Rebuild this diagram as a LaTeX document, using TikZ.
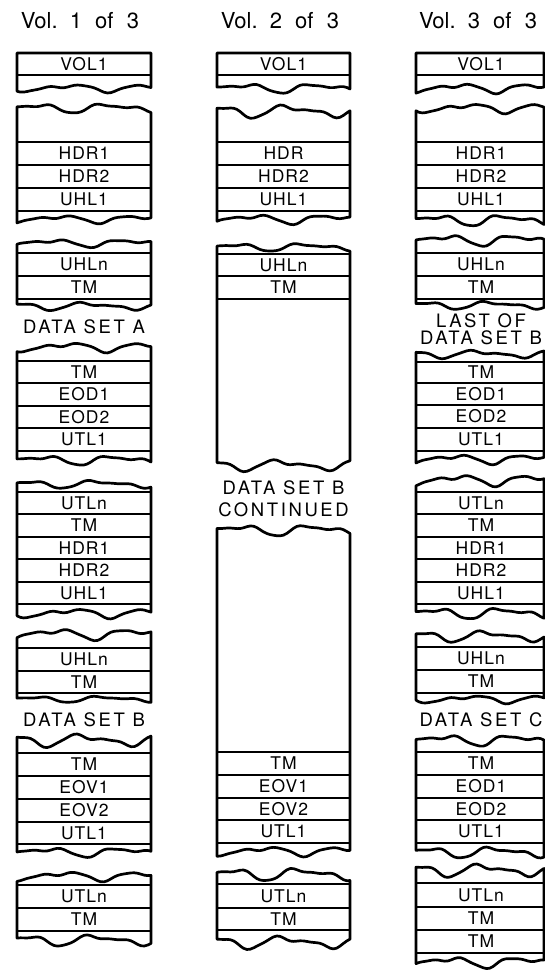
\documentclass[tikz,border=0pt]{standalone}
\usepackage{fontspec}
\setmainfont{TeX Gyre Heros}
\newfontfamily\cellfont[LetterSpace=6]{TeX Gyre Heros}
\newfontfamily\capfont[LetterSpace=14]{TeX Gyre Heros}
\newcommand\wv[2]{(0.55*sin(612*(#1)+(#2))+0.35*sin(1116*(#1)+1.7*(#2))+0.1*sin(2160*(#1)+2.3*(#2)))}
% L R ytop Atop ptop ybot Abot pbot
\newcommand\tapeseg[8]{%
  \draw[tapeline] plot[domain=0:1,samples=41,smooth,variable=\t]
    ({#1+(#2-#1)*\t},{#3+#4*\wv{\t}{#5}})
    -- plot[domain=1:0,samples=41,smooth,variable=\t]
    ({#1+(#2-#1)*\t},{#6+#7*\wv{\t}{#8}}) -- cycle;}
\newcommand\divs[3]{\foreach \yy in {#3} {\draw[divline] (#1,\yy) -- (#2,\yy);}}
\newcommand\lab[4]{\node[cell] (#1) at (#2,#3) {#4};}
\tikzset{
  tapeline/.style={line width=2.7pt, line join=round},
  divline/.style={line width=1.3pt},
  cell/.style={font=\cellfont\fontsize{17.5}{17.5}\selectfont, inner sep=0pt},
  caption/.style={font=\capfont\fontsize{18.5}{19}\selectfont, inner sep=0pt, align=center},
  voltitle/.style={font=\fontsize{22}{23}\selectfont, inner sep=0pt}
}
\begin{document}
\begin{tikzpicture}[x=1pt,y=-1pt]
\useasboundingbox (0,0) rectangle (545,974);
\clip (0,0) rectangle (545,974);
% titles
\node[voltitle] (t1) at (80,21) {Vol.\hspace{0.55em}1\hspace{0.6em}of\hspace{0.6em}3};
\node[voltitle] (t2) at (280,21) {Vol.\hspace{0.55em}2\hspace{0.6em}of\hspace{0.6em}3};
\node[voltitle] (t3) at (478,21) {Vol.\hspace{0.55em}3\hspace{0.6em}of\hspace{0.6em}3};

% ================= Column 1 (L=17, R=151)
\tapeseg{17}{151}{53}{0}{0}{88}{5}{30}
\divs{17}{151}{75}
\lab{a1}{84}{64}{VOL1}

\tapeseg{17}{151}{108}{6}{200}{219}{5}{80}
\divs{17}{151}{142,165,188,211}
\lab{a2}{84}{153.5}{HDR1}
\lab{a3}{84}{176.5}{HDR2}
\lab{a4}{84}{199.5}{UHL1}

\tapeseg{17}{151}{243}{5}{120}{306}{5}{300}
\divs{17}{151}{253,276,299}
\lab{a5}{84}{264.5}{UHLn}
\lab{a6}{84}{287.5}{TM}

\node[caption] (ca) at (84,327) {DATA SET A};

\tapeseg{17}{151}{347}{6}{40}{460}{6}{170}
\divs{17}{151}{361,383,406,428,451}
\lab{a7}{84}{372}{TM}
\lab{a8}{84}{394.5}{EOD1}
\lab{a9}{84}{417}{EOD2}
\lab{a10}{84}{439.5}{UTL1}

\tapeseg{17}{151}{484}{5}{250}{613}{6}{20}
\divs{17}{151}{492,514,537,559,582,604}
\lab{a11}{84}{503}{UTLn}
\lab{a12}{84}{525.5}{TM}
\lab{a13}{84}{548}{HDR1}
\lab{a14}{84}{570.5}{HDR2}
\lab{a15}{84}{593}{UHL1}

\tapeseg{17}{151}{634}{7}{100}{699}{4}{220}
\divs{17}{151}{648,671,693}
\lab{a16}{84}{659.5}{UHLn}
\lab{a17}{84}{682}{TM}

\node[caption] (cb) at (84,720) {DATA SET B};

\tapeseg{17}{151}{740}{8}{320}{852}{6}{140}
\divs{17}{151}{753,776,799,822,844}
\lab{a18}{84}{764.5}{TM}
\lab{a19}{84}{787.5}{EOV1}
\lab{a20}{84}{810.5}{EOV2}
\lab{a21}{84}{833}{UTL1}

\tapeseg{17}{151}{876}{6}{60}{940}{7}{260}
\divs{17}{151}{885,908,931}
\lab{a22}{84}{896.5}{UTLn}
\lab{a23}{84}{919.5}{TM}

% ================= Column 2 (L=217, R=350)
\tapeseg{217}{350}{53}{0}{0}{88}{6}{160}
\divs{217}{350}{75}
\lab{b1}{283.5}{64}{VOL1}

\tapeseg{217}{350}{111}{8}{290}{219}{6}{110}
\divs{217}{350}{142,165,188,211}
\lab{b2}{283.5}{153.5}{HDR}
\lab{b3}{283.5}{176.5}{HDR2}
\lab{b4}{283.5}{199.5}{UHL1}

\tapeseg{217}{350}{247}{5}{210}{465}{7}{330}
\divs{217}{350}{254,276,299}
\lab{b5}{283.5}{265}{UHLn}
\lab{b6}{283.5}{287.5}{TM}

\node[caption] (cc) at (283.5,488) {DATA SET B};
\node[caption] (cd) at (283.5,510) {CONTINUED};

\tapeseg{217}{350}{530}{7}{180}{851}{6}{50}
\divs{217}{350}{752,775,798,820,843}
\lab{b7}{283.5}{763.5}{TM}
\lab{b8}{283.5}{786.5}{EOV1}
\lab{b9}{283.5}{809}{EOV2}
\lab{b10}{283.5}{831.5}{UTL1}

\tapeseg{217}{350}{874}{8}{230}{942}{8}{310}
\divs{217}{350}{884,908,930}
\lab{b11}{283.5}{896}{UTLn}
\lab{b12}{283.5}{919}{TM}

% ================= Column 3 (L=416, R=544)
\tapeseg{416}{544}{53}{0}{0}{88}{6}{70}
\divs{416}{544}{75}
\lab{c1}{481}{64}{VOL1}

\tapeseg{416}{544}{108}{6}{20}{220}{7}{190}
\divs{416}{544}{142,165,188,211}
\lab{c2}{481}{153.5}{HDR1}
\lab{c3}{481}{176.5}{HDR2}
\lab{c4}{481}{199.5}{UHL1}

\tapeseg{416}{544}{240}{7}{140}{305}{5}{260}
\divs{416}{544}{253,276,299}
\lab{c5}{481}{264.5}{UHLn}
\lab{c6}{481}{287.5}{TM}

\node[caption] (ce) at (481,321) {LAST OF};
\node[caption] (cf) at (481,338) {DATA SET B};

\tapeseg{416}{544}{354}{5}{330}{459}{6}{90}
\divs{416}{544}{362,383,405,428,451}
\lab{c7}{481}{372.5}{TM}
\lab{c8}{481}{394}{EOD1}
\lab{c9}{481}{416.5}{EOD2}
\lab{c10}{481}{439.5}{UTL1}

\tapeseg{416}{544}{480}{7}{75}{613}{7}{200}
\divs{416}{544}{492,514,537,559,582,604}
\lab{c11}{481}{503}{UTLn}
\lab{c12}{481}{525.5}{TM}
\lab{c13}{481}{548}{HDR1}
\lab{c14}{481}{570.5}{HDR2}
\lab{c15}{481}{593}{UHL1}

\tapeseg{416}{544}{636}{7}{280}{699}{5}{10}
\divs{416}{544}{647,670,693}
\lab{c16}{481}{658.5}{UHLn}
\lab{c17}{481}{681.5}{TM}

\node[caption] (cg) at (481,720) {DATA SET C};

\tapeseg{416}{544}{740}{7}{150}{852}{7}{240}
\divs{416}{544}{752,775,798,820,843}
\lab{c18}{481}{763.5}{TM}
\lab{c19}{481}{786.5}{EOD1}
\lab{c20}{481}{809}{EOD2}
\lab{c21}{481}{831.5}{UTL1}

\tapeseg{416}{544}{870}{8}{300}{962}{7}{120}
\divs{416}{544}{883,907,930,953}
\lab{c22}{481}{895}{UTLn}
\lab{c23}{481}{918.5}{TM}
\lab{c24}{481}{941.5}{TM}
\end{tikzpicture}
\end{document}
